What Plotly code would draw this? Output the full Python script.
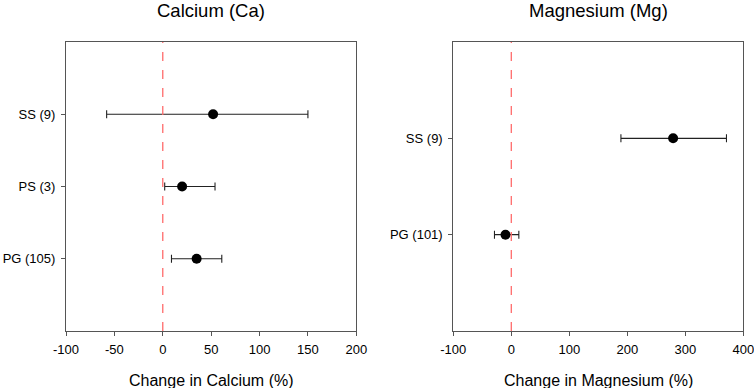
import plotly.graph_objects as go

# Calcium panel
ca_labels = ["PG (105)", "PS (3)", "SS (9)"]
ca_mean = [35, 20, 52]
ca_low = [9, 2, -58]
ca_high = [61, 54, 150]

# Magnesium panel
mg_labels = ["PG (101)", "SS (9)"]
mg_mean = [-10, 279]
mg_low = [-29, 189]
mg_high = [13, 371]

ca_ticks = [-100, -50, 0, 50, 100, 150, 200]
mg_ticks = [-100, 0, 100, 200, 300, 400]

W, H = 754, 388
FONT = "Liberation Sans, Arial, sans-serif"

fig = go.Figure()

def add_panel(labels, mean, low, high, xa, ya):
    ypos = list(range(1, len(labels) + 1))
    fig.add_trace(go.Scatter(
        x=mean, y=ypos, mode="markers",
        marker=dict(color="black", size=10),
        error_x=dict(type="data", symmetric=False,
                     array=[h - m for h, m in zip(high, mean)],
                     arrayminus=[m - l for m, l in zip(mean, low)],
                     color="#222", thickness=1.1, width=4),
        xaxis=xa, yaxis=ya, showlegend=False, hoverinfo="skip"))

add_panel(ca_labels, ca_mean, ca_low, ca_high, "x", "y")
add_panel(mg_labels, mg_mean, mg_low, mg_high, "x2", "y2")

xd1 = [66 / W, 356.3 / W]
xd2 = [453.3 / W, 743.3 / W]
yd = [1 - 331 / H, 1 - 42 / H]

axis_common = dict(showline=True, mirror=True, linecolor="#555", linewidth=1,
                   ticks="outside", ticklen=4, tickcolor="#555", showgrid=False,
                   zeroline=False, automargin=False, ticklabeloverflow="allow",
                   tickfont=dict(size=13, color="black", family=FONT))

fig.update_layout(
    width=W, height=H, margin=dict(l=0, r=0, t=0, b=0, autoexpand=False),
    paper_bgcolor="white", plot_bgcolor="white",
    font=dict(family=FONT, color="black"),
    xaxis=dict(domain=xd1, range=[-100, 200], tickvals=ca_ticks, ticklabelstandoff=2,
               ticktext=[str(v) for v in ca_ticks], anchor="y", **axis_common),
    yaxis=dict(domain=yd, range=[0, 4], tickvals=[1, 2, 3], ticktext=ca_labels,
               ticklabelstandoff=3, anchor="x", **axis_common),
    xaxis2=dict(domain=xd2, range=[-100, 400], tickvals=mg_ticks, ticklabelstandoff=2,
                ticktext=[str(v) for v in mg_ticks], anchor="y2", **axis_common),
    yaxis2=dict(domain=yd, range=[0, 3], tickvals=[1, 2], ticktext=mg_labels,
                ticklabelstandoff=3, anchor="x2", **axis_common),
)

for xa, ya in [("x", "y"), ("x2", "y2")]:
    fig.add_shape(type="line", x0=0, x1=0, y0=0, y1=1, xref=xa, yref=ya + " domain",
                  line=dict(color="#FF6B6B", width=1.3, dash="dash"))

titles = [("Calcium (Ca)", "Change in Calcium (%)", xd1),
          ("Magnesium (Mg)", "Change in Magnesium (%)", xd2)]
for t, xt, d in titles:
    cx = (d[0] + d[1]) / 2
    fig.add_annotation(text=t, x=cx, y=1 - 10 / H, xref="paper", yref="paper",
                       xanchor="center", yanchor="middle", showarrow=False,
                       font=dict(size=18.5, family=FONT, color="black"))
    fig.add_annotation(text=xt, x=cx, y=1 - 380 / H, xref="paper", yref="paper",
                       xanchor="center", yanchor="middle", showarrow=False,
                       font=dict(size=16, family=FONT, color="black"))

fig.write_html("out.html", config={"displayModeBar": False},
               post_script="document.body.style.margin='0px';document.body.style.overflow='hidden';")
